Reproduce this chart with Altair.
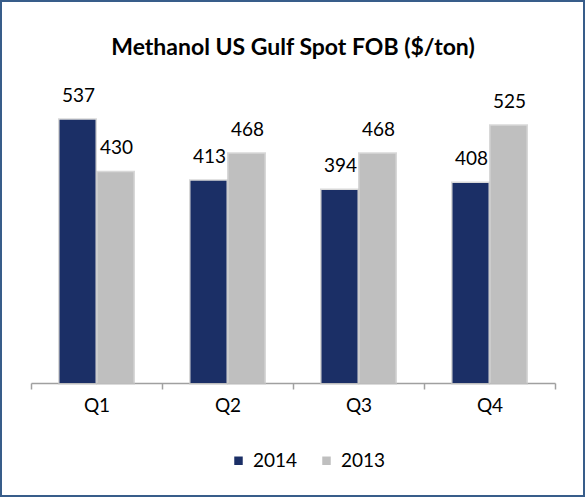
import altair as alt
import pandas as pd

quarters = ["Q1", "Q2", "Q3", "Q4"]
series = ["2014", "2013"]
values_2014 = [537, 413, 394, 408]
values_2013 = [430, 468, 468, 525]
colors = ["#1B2F66", "#BFBFBF"]
title_text = "Methanol US Gulf Spot FOB ($/ton)"

rows = []
for q, a, b in zip(quarters, values_2014, values_2013):
    rows.append({"quarter": q, "year": "2014", "value": a})
    rows.append({"quarter": q, "year": "2013", "value": b})
df = pd.DataFrame(rows)

FONT = "Lato"

x_enc = alt.X(
    "quarter:N",
    sort=quarters,
    scale=alt.Scale(paddingInner=0, paddingOuter=0),
    axis=alt.Axis(
        title=None,
        labelAngle=0,
        labelFont=FONT,
        labelFontSize=19,
        labelColor="#000000",
        labelPadding=7,
        domainColor="#A0A0A0",
        domainWidth=1.5,
        tickColor="#A0A0A0",
        tickWidth=1.5,
        tickSize=6,
        tickBand="extent",
    ),
)
xoff = alt.XOffset(
    "year:N",
    sort=series,
    scale=alt.Scale(domain=series, paddingInner=0.0526, paddingOuter=0.75),
)
y_enc = alt.Y("value:Q", scale=alt.Scale(domain=[0, 600], nice=False), axis=None)

base = alt.Chart(df)

shadow = base.mark_bar(
    fillOpacity=0, stroke="#c8c8c8", strokeWidth=3, strokeOpacity=0.7
).encode(x=x_enc, xOffset=xoff, y=y_enc)

bars = base.mark_bar().encode(
    x=x_enc,
    xOffset=xoff,
    y=y_enc,
    color=alt.Color(
        "year:N",
        sort=series,
        scale=alt.Scale(domain=series, range=colors),
        legend=alt.Legend(
            title=None,
            orient="none",
            direction="horizontal",
            legendX=198,
            legendY=362,
            symbolType="square",
            symbolSize=72,
            symbolStrokeWidth=0,
            labelFont=FONT,
            labelFontSize=19,
            labelColor="#000000",
            labelOffset=5,
            columnPadding=19,
            padding=0,
        ),
    ),
)

labels = base.mark_text(
    font=FONT, fontSize=19, color="#000000", baseline="alphabetic", dy=-18, dx=1
).encode(x=x_enc, xOffset=xoff, y=y_enc, text=alt.Text("value:Q"))

title = alt.Chart(alt.Data(values=[{}])).mark_text(
    font=FONT, fontSize=23, fontWeight="bold", color="#000000", baseline="alphabetic", align="center"
).encode(x=alt.value(262), y=alt.value(-34), text=alt.value(title_text))

border = alt.Chart(alt.Data(values=[{}])).mark_rect(
    fillOpacity=0, stroke="#385D8A", strokeWidth=2
).encode(x=alt.value(-30), x2=alt.value(553), y=alt.value(-88), y2=alt.value(407))

chart = (
    alt.layer(border, shadow, bars, labels, title)
    .properties(
        width=524,
        height=294,
        autosize=alt.AutoSizeParams(type="none"),
        padding={"left": 31, "top": 89, "right": 31, "bottom": 115},
        background="#FFFFFF",
    )
    .configure_view(stroke=None)
)

chart.save("out.html", embed_options={"renderer": "svg", "actions": False})
